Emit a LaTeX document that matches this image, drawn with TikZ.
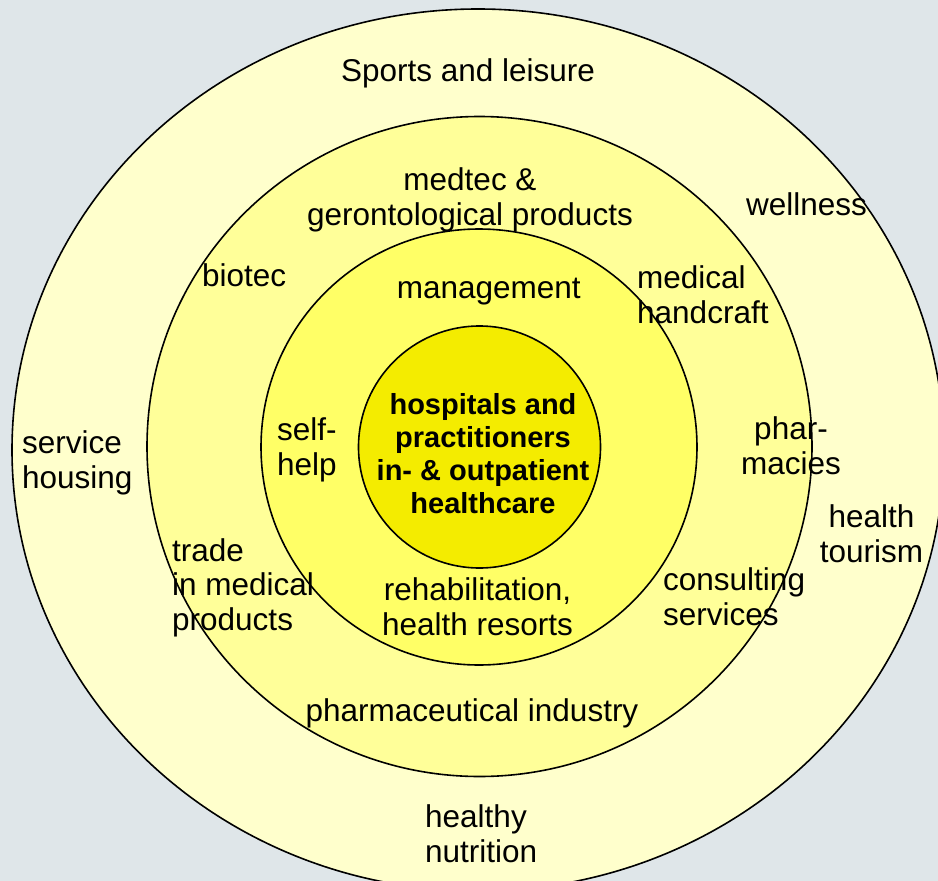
\documentclass[tikz,border=0pt]{standalone}
\usepackage{fontspec}
\setmainfont{Liberation Sans}
\definecolor{bg}{RGB}{223,230,233}
\definecolor{ringA}{RGB}{255,255,204}
\definecolor{ringB}{RGB}{255,255,153}
\definecolor{ringC}{RGB}{255,255,102}
\definecolor{core}{RGB}{244,236,0}
\begin{document}
\begin{tikzpicture}[x=1pt,y=-1pt,
  ring/.style={draw=black, line width=1.6pt},
  lbl/.style={inner sep=0pt, font=\fontsize{31.5}{34.5}\selectfont},
  corelbl/.style={inner sep=0pt, align=center, font=\fontsize{29}{33}\selectfont\bfseries}]
\useasboundingbox (0,0) rectangle (938,881);
\clip (0,0) rectangle (938,881);
\fill[bg] (0,0) rectangle (938,881);
\draw[ring, fill=ringA] (478,450) ellipse [x radius=466, y radius=441];
\draw[ring, fill=ringB] (479.5,446.5) ellipse [x radius=332.5, y radius=330];
\draw[ring, fill=ringC] (479,447) circle [radius=218];
\draw[ring, fill=core] (479.5,447) circle [radius=121];

\node[lbl, anchor=base] (sports) at (468,81) {Sports and leisure};
\node[lbl, anchor=base, align=center] (medtec) at (470,225) {medtec \&\\gerontological products};
\node[lbl, anchor=base west] (wellness) at (746,215) {wellness};
\node[lbl, anchor=base west] (biotec) at (202,286) {biotec};
\node[lbl, anchor=base] (management) at (488.7,298) {management};
\node[lbl, anchor=base west, align=left] (handcraft) at (637,323) {medical\\handcraft};
\node[lbl, anchor=base west, align=left] (housing) at (22,488) {service\\housing};
\node[lbl, anchor=base west, align=left] (selfhelp) at (277,475) {self-\\help};
\node[corelbl, anchor=base] (core) at (483,513) {hospitals and\\practitioners\\in- \& outpatient\\healthcare};
\node[lbl, anchor=base, align=center] (pharmacies) at (791,474) {phar-\\macies};
\node[lbl, anchor=base, align=center] (tourism) at (871.5,562) {health\\tourism};
\node[lbl, anchor=base west, align=left] (consulting) at (663,625) {consulting\\services};
\node[lbl, anchor=base west, align=left] (trade) at (172,630) {trade\\in medical\\products};
\node[lbl, anchor=base, align=center] (rehab) at (477.5,635) {rehabilitation,\\health resorts};
\node[lbl, anchor=base] (pharma) at (472,721) {pharmaceutical industry};
\node[lbl, anchor=base west, align=left] (nutrition) at (425,862) {healthy\\nutrition};
\end{tikzpicture}
\end{document}
